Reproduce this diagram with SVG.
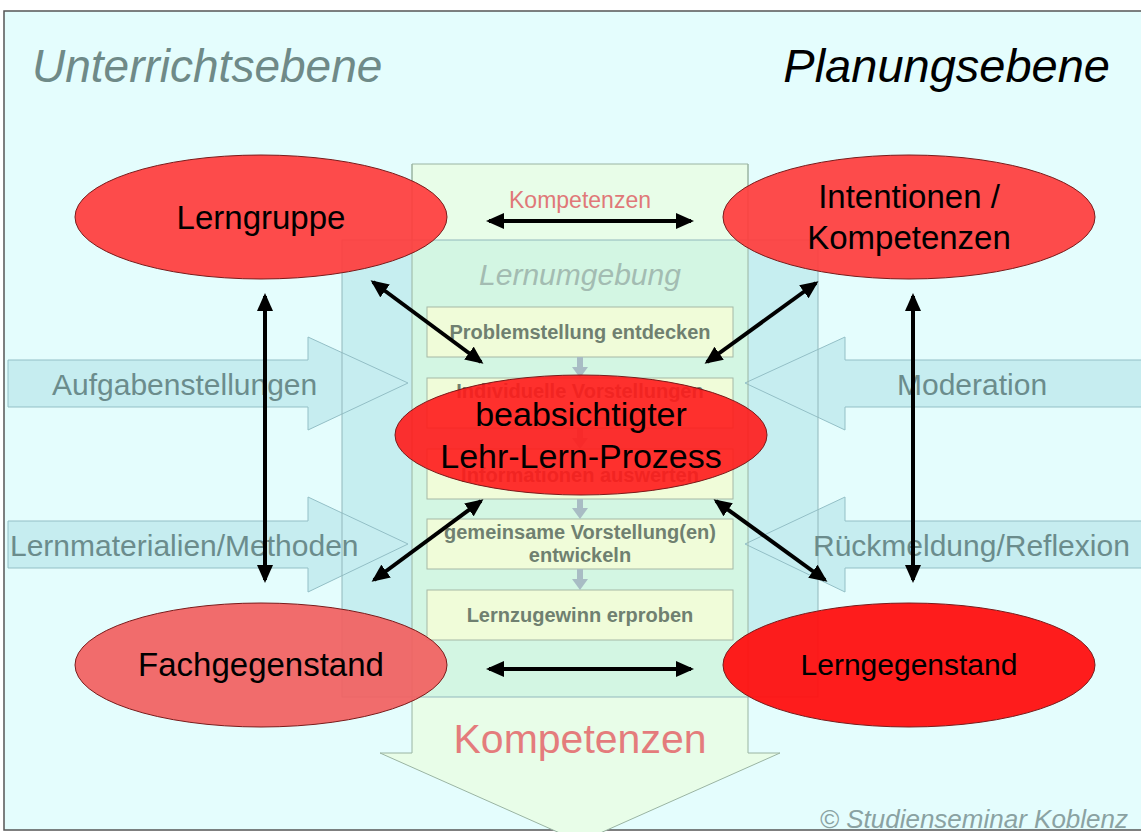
<svg xmlns="http://www.w3.org/2000/svg" width="1141" height="832" viewBox="0 0 1141 832">
<defs>
<style>
.step{fill:#f0fcd9;stroke:#a6b8a6;stroke-width:1}
.steptxt{font-family:"Liberation Sans",Arial,sans-serif;font-weight:bold;font-size:20px;fill:#6f8070;text-anchor:middle}
.side{fill:#c6edf0;stroke:#93bfc6;stroke-width:1}
.sidetxt{font-family:"Liberation Sans",Arial,sans-serif;font-size:30px;fill:#6b8c8c}
.node{stroke:#7a1a1a;stroke-width:1}
.ntxt{font-family:"Liberation Sans",Arial,sans-serif;font-size:33px;fill:#000;text-anchor:middle}
.conn{stroke:#000;stroke-width:4;fill:none;marker-start:url(#ah);marker-end:url(#ah)}
.small{fill:#a8bcc4}
</style>
<marker id="ah" viewBox="0 0 18 16" markerWidth="18" markerHeight="16" refX="15" refY="8" orient="auto-start-reverse" markerUnits="userSpaceOnUse">
<path d="M0,0 L18,8 L0,16 z" fill="#000"/>
</marker>
</defs>

<!-- background -->
<rect x="0" y="0" width="1141" height="832" fill="#ffffff"/>
<rect x="4" y="11" width="1150" height="819" fill="#e4fdfd" stroke="#555" stroke-width="1.5"/>

<!-- big down arrow -->
<g id="arrow-kompetenzen">
<polygon points="412,164 748,164 748,753 780,753 580,842 380,753 412,753" fill="#e8fde8" stroke="#9ab4a2" stroke-width="1"/>
</g>

<!-- Lernumgebung background -->
<g id="lernumgebung">
<rect x="342" y="240" width="476" height="457" fill="#c6eef0"/>
<rect x="412" y="240" width="336" height="457" fill="#d3f6e3"/>
</g>

<!-- side arrows -->
<g id="arrow-aufgaben">
<polygon class="side" points="8,360 308,360 308,337 408,383 308,430 308,407 8,407"/>
</g>
<g id="arrow-lernmaterialien">
<polygon class="side" points="8,521 308,521 308,497 408,544 308,592 308,568 8,568"/>
</g>
<g id="arrow-moderation">
<polygon class="side" points="1145,360 845,360 845,337 745,383 845,430 845,407 1145,407"/>
</g>
<g id="arrow-rueckmeldung">
<polygon class="side" points="1145,521 845,521 845,497 745,544 845,592 845,568 1145,568"/>
</g>
<rect x="342" y="240" width="476" height="457" fill="none" stroke="#92b8bc" stroke-width="1"/>
<line x1="412" y1="164" x2="412" y2="697" stroke="#9ab4a2" stroke-width="1"/>
<line x1="748" y1="164" x2="748" y2="697" stroke="#9ab4a2" stroke-width="1"/>

<!-- step boxes -->
<g id="steps">
<rect class="step" x="427" y="307" width="306" height="50"/>
<rect class="step" x="427" y="378" width="306" height="50"/>
<rect class="step" x="427" y="449" width="306" height="50"/>
<rect class="step" x="427" y="519" width="306" height="50"/>
<rect class="step" x="427" y="590" width="306" height="50"/>
<g class="small">
<rect x="577" y="357" width="6" height="11"/><polygon points="572,367 588,367 580,378"/>
<rect x="577" y="428" width="6" height="11"/><polygon points="572,438 588,438 580,449"/>
<rect x="577" y="499" width="6" height="10"/><polygon points="572,508 588,508 580,519"/>
<rect x="577" y="569" width="6" height="11"/><polygon points="572,579 588,579 580,590"/>
</g>
<text class="steptxt" x="580" y="339">Problemstellung entdecken</text>
<text class="steptxt" x="580" y="398">Individuelle Vorstellungen</text>
<text class="steptxt" x="580" y="482">Informationen auswerten</text>
<text class="steptxt" x="580" y="539">gemeinsame Vorstellung(en)</text>
<text class="steptxt" x="580" y="562">entwickeln</text>
<text class="steptxt" x="580" y="622">Lernzugewinn erproben</text>
</g>

<!-- titles and labels -->
<text x="32" y="82" font-family="Liberation Sans,Arial,sans-serif" font-style="italic" font-size="46" fill="#6f8a88">Unterrichtsebene</text>
<text x="1110" y="82" font-family="Liberation Sans,Arial,sans-serif" font-style="italic" font-size="47" fill="#000" text-anchor="end">Planungsebene</text>
<text x="580" y="208" font-family="Liberation Sans,Arial,sans-serif" font-size="23" fill="#e07878" text-anchor="middle">Kompetenzen</text>
<text x="580" y="285" font-family="Liberation Sans,Arial,sans-serif" font-style="italic" font-size="30" fill="#a3bcb2" text-anchor="middle">Lernumgebung</text>
<text class="sidetxt" x="52" y="395">Aufgabenstellungen</text>
<text class="sidetxt" x="10" y="556">Lernmaterialien/Methoden</text>
<text class="sidetxt" x="897" y="395">Moderation</text>
<text class="sidetxt" x="813" y="556">Rückmeldung/Reflexion</text>
<text x="580" y="753" font-family="Liberation Sans,Arial,sans-serif" font-size="41" fill="#e47c7c" text-anchor="middle">Kompetenzen</text>
<text x="1128" y="828" font-family="Liberation Sans,Arial,sans-serif" font-style="italic" font-size="26" fill="#8aa2a2" text-anchor="end">© Studienseminar Koblenz</text>

<!-- nodes -->
<g id="lerngruppe">
<ellipse class="node" cx="261" cy="217" rx="186" ry="62" fill="#ff3c3c" fill-opacity="0.92"/>
<text class="ntxt" x="261" y="229">Lerngruppe</text>
</g>
<g id="intentionen">
<ellipse class="node" cx="909" cy="217" rx="186" ry="62" fill="#ff3c3c" fill-opacity="0.92"/>
<text class="ntxt" x="909" y="208">Intentionen /</text>
<text class="ntxt" x="909" y="249">Kompetenzen</text>
</g>
<g id="fachgegenstand">
<ellipse class="node" cx="261" cy="665" rx="186" ry="62" fill="#f26060" fill-opacity="0.92"/>
<text class="ntxt" x="261" y="676">Fachgegenstand</text>
</g>
<g id="lerngegenstand">
<ellipse class="node" cx="909" cy="665" rx="186" ry="62" fill="#ff1010" fill-opacity="0.95"/>
<text class="ntxt" x="909" y="675" style="font-size:30px">Lerngegenstand</text>
</g>
<g id="prozess">
<ellipse class="node" cx="581" cy="435" rx="186" ry="60" fill="#ff1a1a" fill-opacity="0.9"/>
<text class="ntxt" x="581" y="426" style="font-size:34px">beabsichtigter</text>
<text class="ntxt" x="581" y="468" style="font-size:34px">Lehr-Lern-Prozess</text>
</g>

<!-- connectors -->
<g id="connectors">
<line class="conn" x1="489" y1="221" x2="691" y2="221"/>
<line class="conn" x1="489" y1="669" x2="691" y2="669"/>
<line class="conn" x1="265" y1="296" x2="265" y2="580"/>
<line class="conn" x1="913" y1="296" x2="913" y2="580"/>
<line class="conn" x1="373" y1="282" x2="481" y2="362"/>
<line class="conn" x1="816" y1="283" x2="707" y2="362"/>
<line class="conn" x1="481" y1="501" x2="374" y2="580"/>
<line class="conn" x1="716" y1="501" x2="825" y2="580"/>
</g>
</svg>
